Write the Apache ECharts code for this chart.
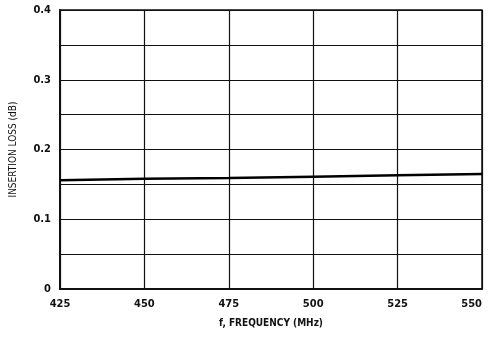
<!DOCTYPE html>
<html><head><meta charset="utf-8">
<script src="https://cdn.jsdelivr.net/npm/echarts@6/dist/echarts.min.js"></script>
<style>html,body{margin:0;padding:0;background:#fff}#c{width:490px;height:342px}</style>
</head><body><div id="c"></div>
<script>
const frequencies = [425, 450, 475, 500, 525, 550];
const insertionLoss = [0.156, 0.158, 0.159, 0.161, 0.163, 0.165];
const yTickLabels = {"0": "0", "0.1": "0.1", "0.2": "0.2", "0.3": "0.3", "0.4": "0.4"};
const FONT = "'Liberation Sans Narrow', 'DejaVu Sans Condensed', sans-serif";
const chart = echarts.init(document.getElementById('c'));
chart.setOption({
  animation: false,
  backgroundColor: '#fff',
  grid: {left: 60, top: 10, right: 8, bottom: 53, outerBoundsMode: 'none', containLabel: false,
    show: true, borderColor: '#111', borderWidth: 1.5},
  xAxis: {
    type: 'value', min: 425, max: 550, interval: 25,
    name: 'f, FREQUENCY (MHz)', nameLocation: 'middle', nameGap: 29,
    nameTextStyle: {fontFamily: FONT, fontSize: 10, color: '#111', fontWeight: 'bold'},
    axisLine: {show: true, lineStyle: {color: '#111', width: 2}},
    axisTick: {show: false},
    axisLabel: {fontFamily: FONT, fontSize: 11, color: '#111', fontWeight: 'bold', margin: 10,
      alignMaxLabel: 'right'},
    splitLine: {show: true, lineStyle: {color: '#111', width: 1.2}}
  },
  yAxis: {
    type: 'value', min: 0, max: 0.4, interval: 0.05,
    name: 'INSERTION LOSS (dB)', nameLocation: 'middle', nameGap: 42,
    nameTextStyle: {fontFamily: FONT, fontSize: 10, color: '#111'},
    axisLine: {show: true, lineStyle: {color: '#111', width: 2}},
    axisTick: {show: false},
    axisLabel: {fontFamily: FONT, fontSize: 11, color: '#111', fontWeight: 'bold', margin: 9,
      formatter: v => { const k = String(Math.round(v * 100) / 100); return yTickLabels[k] !== undefined ? yTickLabels[k] : ''; }},
    splitLine: {show: true, lineStyle: {color: '#111', width: 1.2}}
  },
  series: [{
    type: 'line', data: frequencies.map((f, i) => [f, insertionLoss[i]]),
    showSymbol: false, lineStyle: {color: '#000', width: 2.5}
  }]
});
</script></body></html>
